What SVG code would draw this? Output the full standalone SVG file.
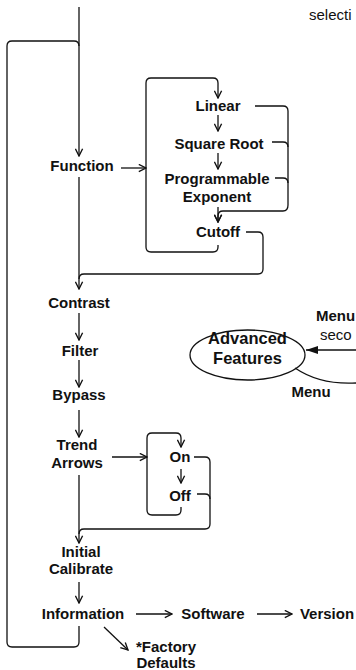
<svg xmlns="http://www.w3.org/2000/svg" width="356" height="670" viewBox="0 0 356 670">
<style>
.c{fill:none;stroke:#111;stroke-width:1.3;stroke-linejoin:round}
.a{marker-end:url(#open)}
.t{font-family:"Liberation Sans",Arial,sans-serif;font-weight:bold;font-size:15px;fill:#111;text-anchor:middle}
.r{font-family:"Liberation Sans",Arial,sans-serif;font-size:15px;fill:#111}
.s{text-anchor:start}
.big{font-size:16.5px}
</style>
<defs>
<marker id="open" viewBox="0 0 10 10" markerUnits="userSpaceOnUse" markerWidth="9" markerHeight="9" refX="9" refY="5" orient="auto">
<path d="M1,1 L9,5 L1,9" fill="none" stroke="#111" stroke-width="1.5"/>
</marker>
<marker id="solid" viewBox="0 0 12 10" markerUnits="userSpaceOnUse" markerWidth="12" markerHeight="10" refX="12" refY="5" orient="auto">
<path d="M0,1 L12,5 L0,9 Z" fill="#111"/>
</marker>
</defs>
<rect width="356" height="670" fill="#fff"/>
<g id="connectors">
<path class="c a" d="M79 7 V156"/>
<path class="c" d="M79 626 V642 Q79 647 74 647 H12 Q7 647 7 642 V46 Q7 41 12 41 H74 Q79 41 79 46"/>
<path class="c a" d="M121 168 H146"/>
<path class="c a" d="M218 245 V247 Q218 252 213 252 H151 Q146 252 146 247 V83 Q146 78 151 78 H213 Q218 78 218 83 V98"/>
<path class="c a" d="M218 115 V131"/>
<path class="c a" d="M218 153 V169"/>
<path class="c a" d="M218 207 V222"/>
<path class="c a" d="M255 106 H283 Q288 106 288 111 V205 Q288 211 283 211 H223 Q218 211 218 216 V222"/>
<path class="c" d="M272 142 H283 Q288 142 288 147"/>
<path class="c" d="M275 178 H283 Q288 178 288 183"/>
<path class="c" d="M246 232 H258 Q263 232 263 237 V269 Q263 274 258 274 H84 Q79 274 79 279"/>
<path class="c a" d="M79 177 V289"/>
<path class="c a" d="M79 313 V340"/>
<path class="c a" d="M79 360 V387"/>
<path class="c a" d="M79 410 V437"/>
<path class="c a" d="M112 457 H147"/>
<path class="c a" d="M181 507 V510 Q181 515 176 515 H152 Q147 515 147 510 V438 Q147 433 152 433 H176 Q181 433 181 438 V447"/>
<path class="c a" d="M181 469 V483"/>
<path class="c" d="M194 457 H205 Q210 457 210 462 V524 Q210 529 205 529 H84 Q79 529 79 534"/>
<path class="c" d="M197 494 H205 Q210 494 210 499"/>
<path class="c a" d="M79 475 V543"/>
<path class="c a" d="M79 582 V603"/>
<path class="c a" d="M136 614 H172"/>
<path class="c a" d="M257 614 H292"/>
<path class="c a" d="M104 627 L128 650"/>
<path class="c" d="M356 350 H306" marker-end="url(#solid)"/>
<path class="c" d="M295 368 Q320 385 356 383"/>
</g>
<g id="selection"><text class="r" x="309" y="19.5">selecti</text></g>
<g id="function"><text class="t" x="82" y="171">Function</text></g>
<g id="linear"><text class="t" x="218" y="111">Linear</text></g>
<g id="squareroot"><text class="t" x="219" y="149">Square Root</text></g>
<g id="programmable"><text class="t" x="217" y="184">Programmable</text><text class="t" x="217" y="202">Exponent</text></g>
<g id="cutoff"><text class="t" x="218" y="237">Cutoff</text></g>
<g id="contrast"><text class="t" x="79" y="308">Contrast</text></g>
<g id="filter"><text class="t" x="80" y="356">Filter</text></g>
<g id="bypass"><text class="t" x="79" y="400">Bypass</text></g>
<g id="trend"><text class="t" x="77" y="450">Trend</text><text class="t" x="77" y="468">Arrows</text></g>
<g id="on"><text class="t" x="180" y="462">On</text></g>
<g id="off"><text class="t" x="180" y="501">Off</text></g>
<g id="initial"><text class="t" x="81" y="557">Initial</text><text class="t" x="81" y="574">Calibrate</text></g>
<g id="information"><text class="t" x="83" y="619">Information</text></g>
<g id="software"><text class="t" x="213" y="619">Software</text></g>
<g id="version"><text class="t" x="327" y="619">Version</text></g>
<g id="factory"><text class="t" x="166" y="652">*Factory</text><text class="t" x="166" y="668">Defaults</text></g>
<g id="advanced">
<ellipse cx="247.5" cy="355" rx="57.5" ry="25" class="c"/>
<text class="t big" x="247.5" y="344">Advanced</text>
<text class="t big" x="247.5" y="364">Features</text>
</g>
<g id="menu-in"><text class="t s" x="316" y="321">Menu</text><text class="r" x="320" y="340">seco</text></g>
<g id="menu-out"><text class="t" x="311" y="397">Menu</text></g>
</svg>
